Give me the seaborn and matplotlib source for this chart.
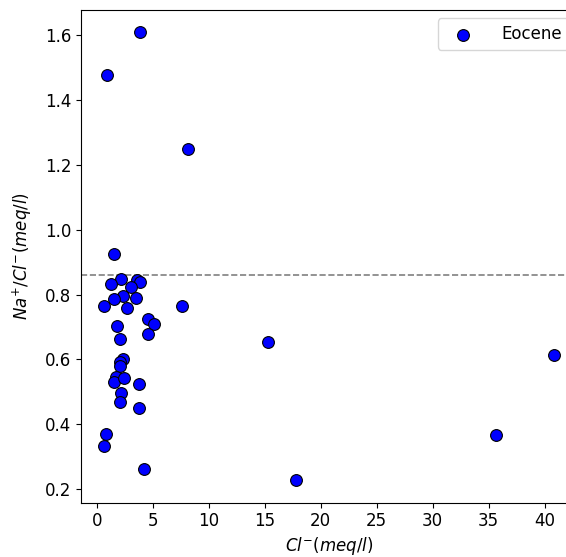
import matplotlib
matplotlib.use("Agg")
import matplotlib.pyplot as plt
import seaborn as sns
import pandas as pd

cl = [3.84, 0.93, 8.16, 1.55, 2.12, 1.28, 3.60, 3.90, 3.07, 2.36, 1.52, 3.54,
      0.63, 2.71, 7.62, 4.55, 5.09, 1.82, 4.59, 2.03, 2.32, 2.05, 2.03, 1.67,
      1.52, 2.41, 3.81, 2.12, 2.03, 3.79, 0.84, 0.60, 4.26, 15.30, 17.77,
      35.66, 40.87]
na_cl = [1.607, 1.475, 1.249, 0.925, 0.849, 0.831, 0.844, 0.838, 0.823, 0.795,
         0.787, 0.790, 0.764, 0.759, 0.764, 0.726, 0.710, 0.702, 0.679, 0.662,
         0.600, 0.592, 0.579, 0.546, 0.530, 0.544, 0.523, 0.497, 0.470, 0.451,
         0.371, 0.334, 0.264, 0.653, 0.228, 0.366, 0.615]
series_label = "Eocene"
ref_ratio = 0.86

df = pd.DataFrame({"cl": cl, "ratio": na_cl})

plt.rcParams["font.size"] = 12
fig = plt.figure(figsize=(5.66, 5.57), dpi=100)
ax = fig.add_axes([0.1431, 0.0975, 0.876, 0.8845])

sns.scatterplot(data=df, x="cl", y="ratio", color="blue", edgecolor="black",
                linewidth=0.8, s=72, label=series_label, ax=ax, zorder=3)
ax.axhline(ref_ratio, color="gray", linestyle="--", linewidth=1.2, zorder=2)

ax.set_xlabel(r"$Cl^{-}(meq/l)$", fontsize=12, labelpad=3)
ax.set_ylabel(r"$Na^{+}/Cl^{-}(meq/l)$", fontsize=12, labelpad=8)
ax.set_xticks([0, 5, 10, 15, 20, 25, 30, 35, 40])
ax.set_yticks([0.2, 0.4, 0.6, 0.8, 1.0, 1.2, 1.4, 1.6])
ax.tick_params(labelsize=12)
ax.legend(loc="upper right", fontsize=12, borderaxespad=0.5,
          handlelength=2.2, handletextpad=1.2)

fig.savefig("out.png", dpi=100)
